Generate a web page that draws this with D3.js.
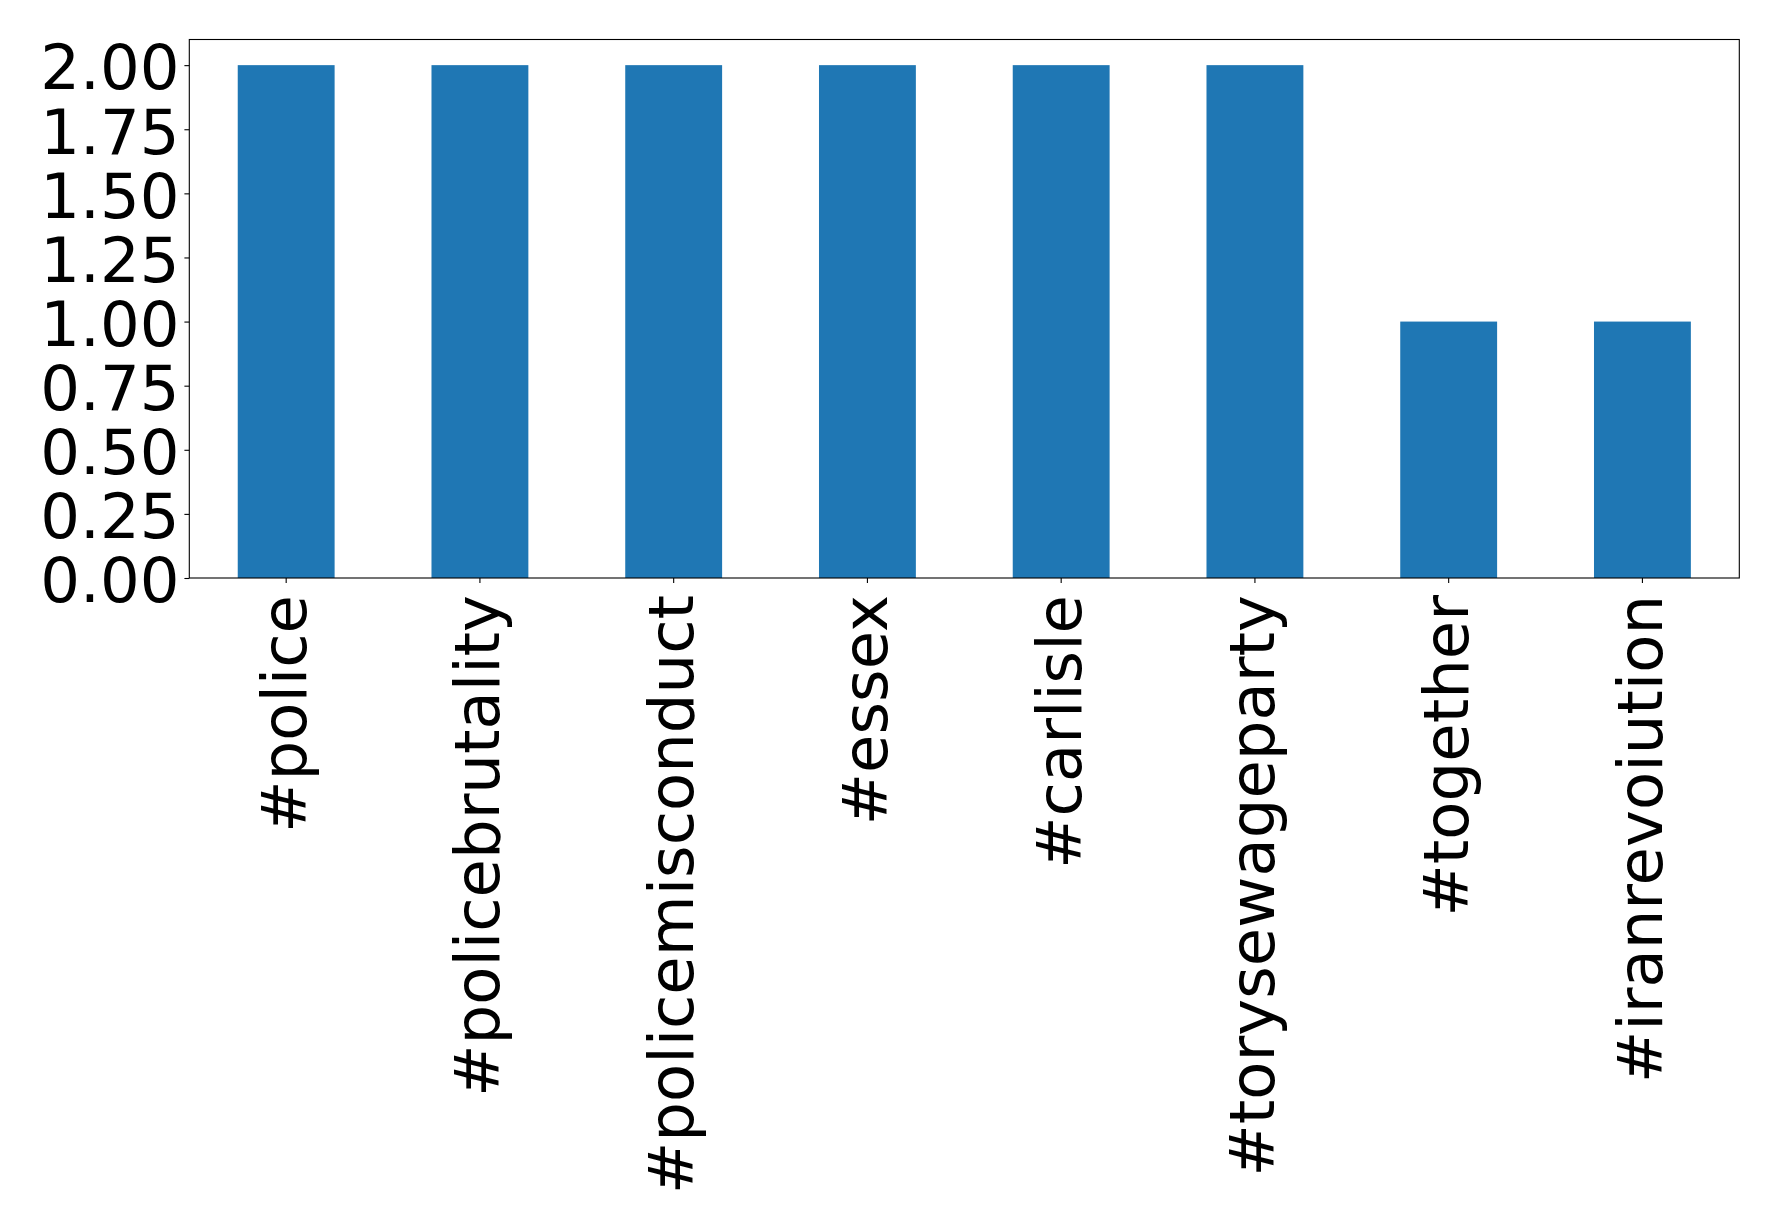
<!DOCTYPE html>
<html>
<head>
<meta charset="utf-8">
<script src="https://cdn.jsdelivr.net/npm/d3@7"></script>
<style>
  html, body { margin: 0; padding: 0; background: #fff; }
  svg text { font-family: "DejaVu Sans", sans-serif; fill: #000; }
</style>
</head>
<body>
<svg id="chart" width="1778" height="1227"></svg>
<script>
const categories = ["#police", "#policebrutality", "#policemisconduct", "#essex", "#carlisle", "#torysewageparty", "#together", "#iranrevoiution"];
const values = [2, 2, 2, 2, 2, 2, 1, 1];
const yTicks = [0, 0.25, 0.5, 0.75, 1.0, 1.25, 1.5, 1.75, 2.0];

(function () {
const svg = d3.select("#chart");
const pLeft = 189.3, pRight = 1739.3, pTop = 39.5, pBottom = 578;
const fontSize = 62.5;

const x = d3.scaleBand().domain(categories).range([pLeft, pRight]).paddingInner(0.5).paddingOuter(0.25);
const y = d3.scaleLinear().domain([0, 2.1]).range([pBottom, pTop]);

svg.append("g").selectAll("rect").data(values).join("rect")
  .attr("x", (d, i) => x(categories[i]))
  .attr("width", x.bandwidth())
  .attr("y", d => y(d))
  .attr("height", d => y(0) - y(d))
  .attr("fill", "#1f77b4");

const yAxis = svg.append("g").attr("transform", `translate(${pLeft},0)`)
  .call(d3.axisLeft(y).tickValues(yTicks).tickFormat(d3.format(".2f")).tickSize(4.9).tickPadding(4.9));
yAxis.select(".domain").remove();
yAxis.selectAll("line").attr("stroke", "#000").attr("stroke-width", 1.1);
yAxis.selectAll("text").attr("font-size", fontSize).attr("dy", "0.38em").attr("fill", "#000")
  .style("font-family", "'DejaVu Sans', sans-serif");

const xAxis = svg.append("g").attr("transform", `translate(0,${pBottom})`)
  .call(d3.axisBottom(x).tickSize(4.9).tickPadding(0));
xAxis.select(".domain").remove();
xAxis.selectAll("line").attr("stroke", "#000").attr("stroke-width", 1.1);
xAxis.selectAll("text")
  .attr("font-size", fontSize)
  .attr("fill", "#000")
  .style("font-family", "'DejaVu Sans', sans-serif")
  .attr("text-anchor", "end")
  .attr("transform", "translate(0,17) rotate(-90)")
  .attr("x", 0).attr("y", 0)
  .attr("dy", "0.31em");

svg.append("rect")
  .attr("x", pLeft).attr("y", pTop)
  .attr("width", pRight - pLeft).attr("height", pBottom - pTop)
  .attr("fill", "none").attr("stroke", "#000").attr("stroke-width", 1.1);
})();
</script>
</body>
</html>
